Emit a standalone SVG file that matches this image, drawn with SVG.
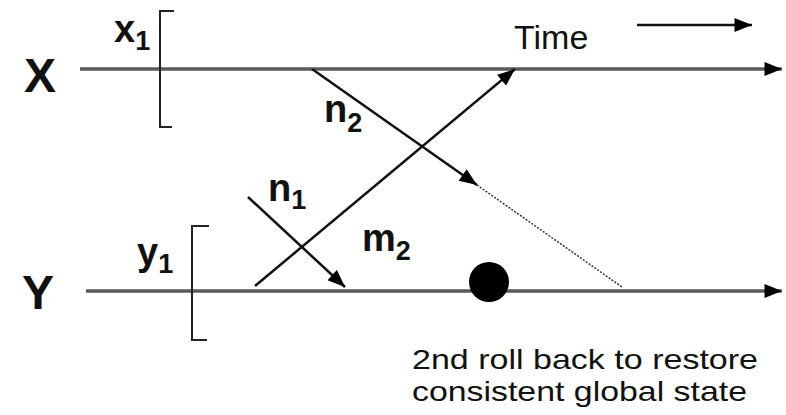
<svg xmlns="http://www.w3.org/2000/svg" width="786" height="415" viewBox="0 0 786 415">
<defs>
<style>
.axis{stroke:#5a5a5a;stroke-width:3.5;fill:none}
.msg{stroke:#111;stroke-width:2.5;fill:none}
.br{stroke:#222;stroke-width:2;fill:none}
.big{font-family:"Liberation Sans",Arial,sans-serif;font-weight:bold;font-size:48px;fill:#111}
.lab{font-family:"Liberation Sans",Arial,sans-serif;font-weight:bold;font-size:38px;fill:#111}
.sub{font-size:27px}
.txt{font-family:"Liberation Sans",Arial,sans-serif;font-size:34px;fill:#111}
.note{font-family:"Liberation Sans",Arial,sans-serif;font-size:28px;fill:#111}
</style>
<marker id="a" viewBox="0 0 10 8" refX="10" refY="4" markerWidth="18" markerHeight="14" markerUnits="userSpaceOnUse" orient="auto"><path d="M0,0 L10,4 L0,8 Z" fill="#000"/></marker>
</defs>
<g id="process-X">
<text class="big" x="24" y="92">X</text>
<line class="axis" x1="80" y1="69" x2="782" y2="69" marker-end="url(#a)"/>
</g>
<g id="process-Y">
<text class="big" x="22" y="309">Y</text>
<line class="axis" x1="86" y1="291" x2="782" y2="291" marker-end="url(#a)"/>
</g>
<g id="checkpoint-x1">
<path class="br" d="M174,11 H160 V127 H172"/>
<text class="lab" x="114" y="42">x<tspan class="sub" dy="8">1</tspan></text>
</g>
<g id="checkpoint-y1">
<path class="br" d="M209,226 H192 V340 H207"/>
<text class="lab" x="137" y="265">y<tspan class="sub" dy="8">1</tspan></text>
</g>
<g id="time">
<text class="txt" x="514" y="49">Time</text>
<line class="msg" x1="637" y1="25" x2="752" y2="25" marker-end="url(#a)"/>
</g>
<g id="rollback-point">
<circle cx="489" cy="282" r="20" fill="#000"/>
<text class="note" x="412" y="369" textLength="346" lengthAdjust="spacingAndGlyphs">2nd roll back to restore</text>
<text class="note" x="412" y="401" textLength="335" lengthAdjust="spacingAndGlyphs">consistent global state</text>
</g>
<g id="connectors">
<line class="msg" x1="312" y1="69" x2="477" y2="185" marker-end="url(#a)"/>
<line x1="477" y1="185" x2="622" y2="287" stroke="#333" stroke-width="1.5" stroke-dasharray="2,1.5"/>
<line class="msg" x1="255" y1="286" x2="515" y2="69" marker-end="url(#a)"/>
<line class="msg" x1="248" y1="197" x2="345" y2="287" marker-end="url(#a)"/>
</g>
<g id="labels">
<text class="lab" x="324" y="122">n<tspan class="sub" dy="10">2</tspan></text>
<text class="lab" x="268" y="201">n<tspan class="sub" dy="8">1</tspan></text>
<text class="lab" x="362" y="251">m<tspan class="sub" dy="9">2</tspan></text>
</g>
</svg>
